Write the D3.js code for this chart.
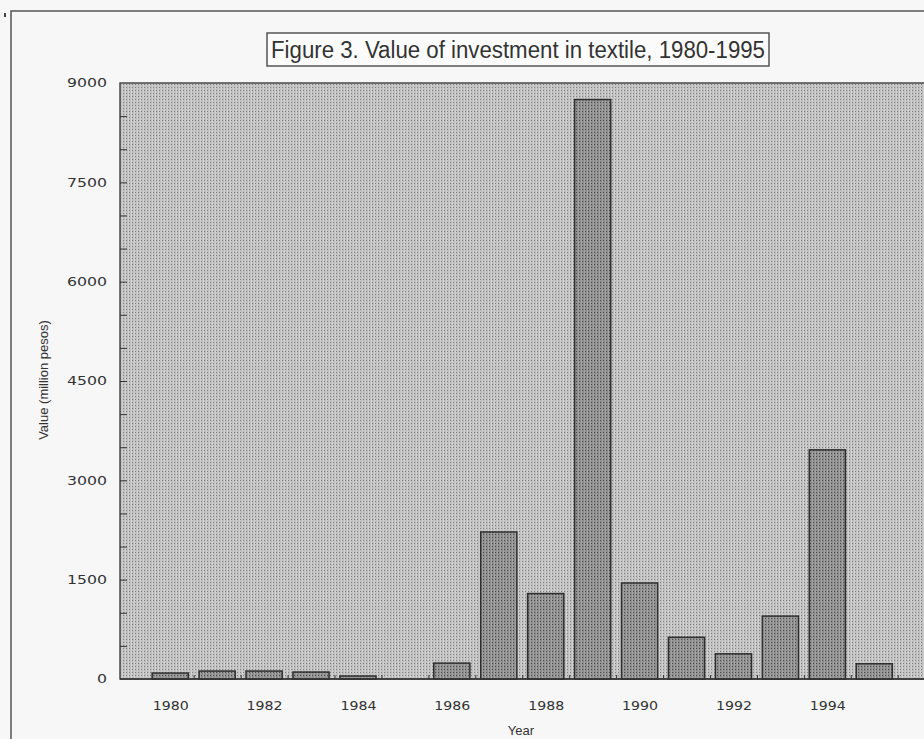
<!DOCTYPE html>
<html>
<head>
<meta charset="utf-8">
<script src="https://cdn.jsdelivr.net/npm/d3@7"></script>
<style>
  body { margin: 0; background: #f7f7f7; }
  svg { display: block; }
</style>
</head>
<body>
<div id="chart"></div>
<script>
// data
const years = [1980, 1981, 1982, 1983, 1984, 1985, 1986, 1987, 1988, 1989, 1990, 1991, 1992, 1993, 1994, 1995];
const values = [90, 120, 120, 105, 45, 0, 240, 2220, 1290, 8750, 1450, 630, 380, 950, 3460, 230];
const yTickValues = [0, 1500, 3000, 4500, 6000, 7500, 9000];
const xTickYears = [1980, 1982, 1984, 1986, 1988, 1990, 1992, 1994];
const title = "Figure 3. Value of investment in textile, 1980-1995";

let w = 924, h = 739;
let plotLeft = 120, plotRight = 940, plotTop = 83, plotBottom = 679;

const svg = d3.select("#chart").append("svg")
  .attr("width", w)
  .attr("height", h);

// dotted textures like the old screen print
const defs = svg.append("defs");
const bgPat = defs.append("pattern")
  .attr("id", "bgPat").attr("width", 3).attr("height", 3)
  .attr("patternUnits", "userSpaceOnUse");
bgPat.append("rect").attr("width", 3).attr("height", 3).attr("fill", "#bfbfbf");
bgPat.append("rect").attr("width", 1).attr("height", 1).attr("fill", "#808080");
bgPat.append("rect").attr("x", 2).attr("width", 1).attr("height", 3).attr("fill", "#d0d0d0");

const barPat = defs.append("pattern")
  .attr("id", "barPat").attr("width", 3).attr("height", 3)
  .attr("patternUnits", "userSpaceOnUse");
barPat.append("rect").attr("width", 3).attr("height", 3).attr("fill", "#8e8e8e");
barPat.append("rect").attr("width", 1).attr("height", 1).attr("fill", "#4a4a4a");
barPat.append("rect").attr("x", 2).attr("width", 1).attr("height", 3).attr("fill", "#a2a2a2");

// outer frame
svg.append("path")
  .attr("d", `M11,${h} L11,11 L${w},11`)
  .attr("fill", "none")
  .attr("stroke", "#555")
  .attr("stroke-width", 1.5);
svg.append("rect").attr("x", 4).attr("y", 13).attr("width", 2).attr("height", 4).attr("fill", "#444");

let xScale = d3.scaleLinear()
  .domain([1978.93, 1996.4])
  .range([plotLeft, plotRight]);

let yScale = d3.scaleLinear()
  .domain([0, 9000])
  .range([plotBottom, plotTop]);

// plot area
svg.append("rect")
  .attr("x", plotLeft).attr("y", plotTop)
  .attr("width", plotRight - plotLeft).attr("height", plotBottom - plotTop)
  .attr("fill", "url(#bgPat)")
  .attr("stroke", "#4a4a4a")
  .attr("stroke-width", 1.5);

// minor ticks on the inside of the left edge
svg.append("g")
  .attr("transform", `translate(${plotLeft}, 0)`)
  .call(d3.axisRight(yScale).tickValues(d3.range(500, 9000, 500)).tickSize(7).tickFormat(""))
  .call(g => g.select(".domain").remove())
  .call(g => g.selectAll("line").attr("stroke", "#333"));

// ticks between bars along the base
svg.append("g")
  .attr("transform", `translate(0, ${plotBottom})`)
  .call(d3.axisTop(xScale).tickValues(years.map(y => y + 0.5)).tickSize(4).tickFormat(""))
  .call(g => g.select(".domain").remove())
  .call(g => g.selectAll("line").attr("stroke", "#333"));

// bars
const half = 0.385;
svg.selectAll(".bar")
  .data(years.map((y, i) => ({year: y, value: values[i]})).filter(d => d.value > 0))
  .enter()
  .append("rect")
  .attr("class", "bar")
  .attr("x", d => xScale(d.year - half))
  .attr("width", d => xScale(d.year + half) - xScale(d.year - half))
  .attr("y", d => yScale(d.value))
  .attr("height", d => yScale(0) - yScale(d.value))
  .attr("fill", "url(#barPat)")
  .attr("stroke", "#2e2e2e")
  .attr("stroke-width", 1.5);

// base line
svg.append("line")
  .attr("x1", plotLeft).attr("x2", plotRight)
  .attr("y1", plotBottom).attr("y2", plotBottom)
  .attr("stroke", "#333").attr("stroke-width", 1.5);

// y labels
svg.append("g")
  .attr("transform", `translate(${plotLeft}, 0)`)
  .call(d3.axisLeft(yScale).tickValues(yTickValues).tickSize(0).tickPadding(13).tickFormat(d3.format("d")))
  .call(g => g.select(".domain").remove())
  .call(g => g.selectAll("text")
    .attr("font-family", "DejaVu Sans, sans-serif")
    .attr("font-size", 12)
    .attr("fill", "#333")
    .attr("textLength", d => String(d).length * 10)
    .attr("lengthAdjust", "spacingAndGlyphs"));

// x labels
svg.append("g")
  .attr("transform", `translate(0, ${plotBottom})`)
  .call(d3.axisBottom(xScale).tickValues(xTickYears).tickSize(0).tickPadding(22).tickFormat(d3.format("d")))
  .call(g => g.select(".domain").remove())
  .call(g => g.selectAll("text")
    .attr("font-family", "DejaVu Sans, sans-serif")
    .attr("font-size", 12)
    .attr("fill", "#333")
    .attr("textLength", 36)
    .attr("lengthAdjust", "spacingAndGlyphs"));

// axis titles
svg.append("text")
  .attr("transform", "translate(48, 380) rotate(-90)")
  .attr("text-anchor", "middle")
  .attr("font-family", "Liberation Sans, Arial, sans-serif")
  .attr("font-size", 13)
  .attr("fill", "#333")
  .text("Value (million pesos)");

svg.append("text")
  .attr("x", 521)
  .attr("y", 735)
  .attr("text-anchor", "middle")
  .attr("font-family", "Liberation Sans, Arial, sans-serif")
  .attr("font-size", 13)
  .attr("fill", "#333")
  .text("Year");

// title box
svg.append("rect")
  .attr("x", 267).attr("y", 33)
  .attr("width", 502).attr("height", 33)
  .attr("fill", "#fbfbfb")
  .attr("stroke", "#555")
  .attr("stroke-width", 1.5);

svg.append("text")
  .attr("x", 271)
  .attr("y", 58)
  .attr("font-family", "Liberation Sans Narrow, Liberation Sans, Arial, sans-serif")
  .attr("font-size", 23)
  .attr("fill", "#333")
  .attr("textLength", 494)
  .attr("lengthAdjust", "spacingAndGlyphs")
  .text(title);
</script>
</body>
</html>
